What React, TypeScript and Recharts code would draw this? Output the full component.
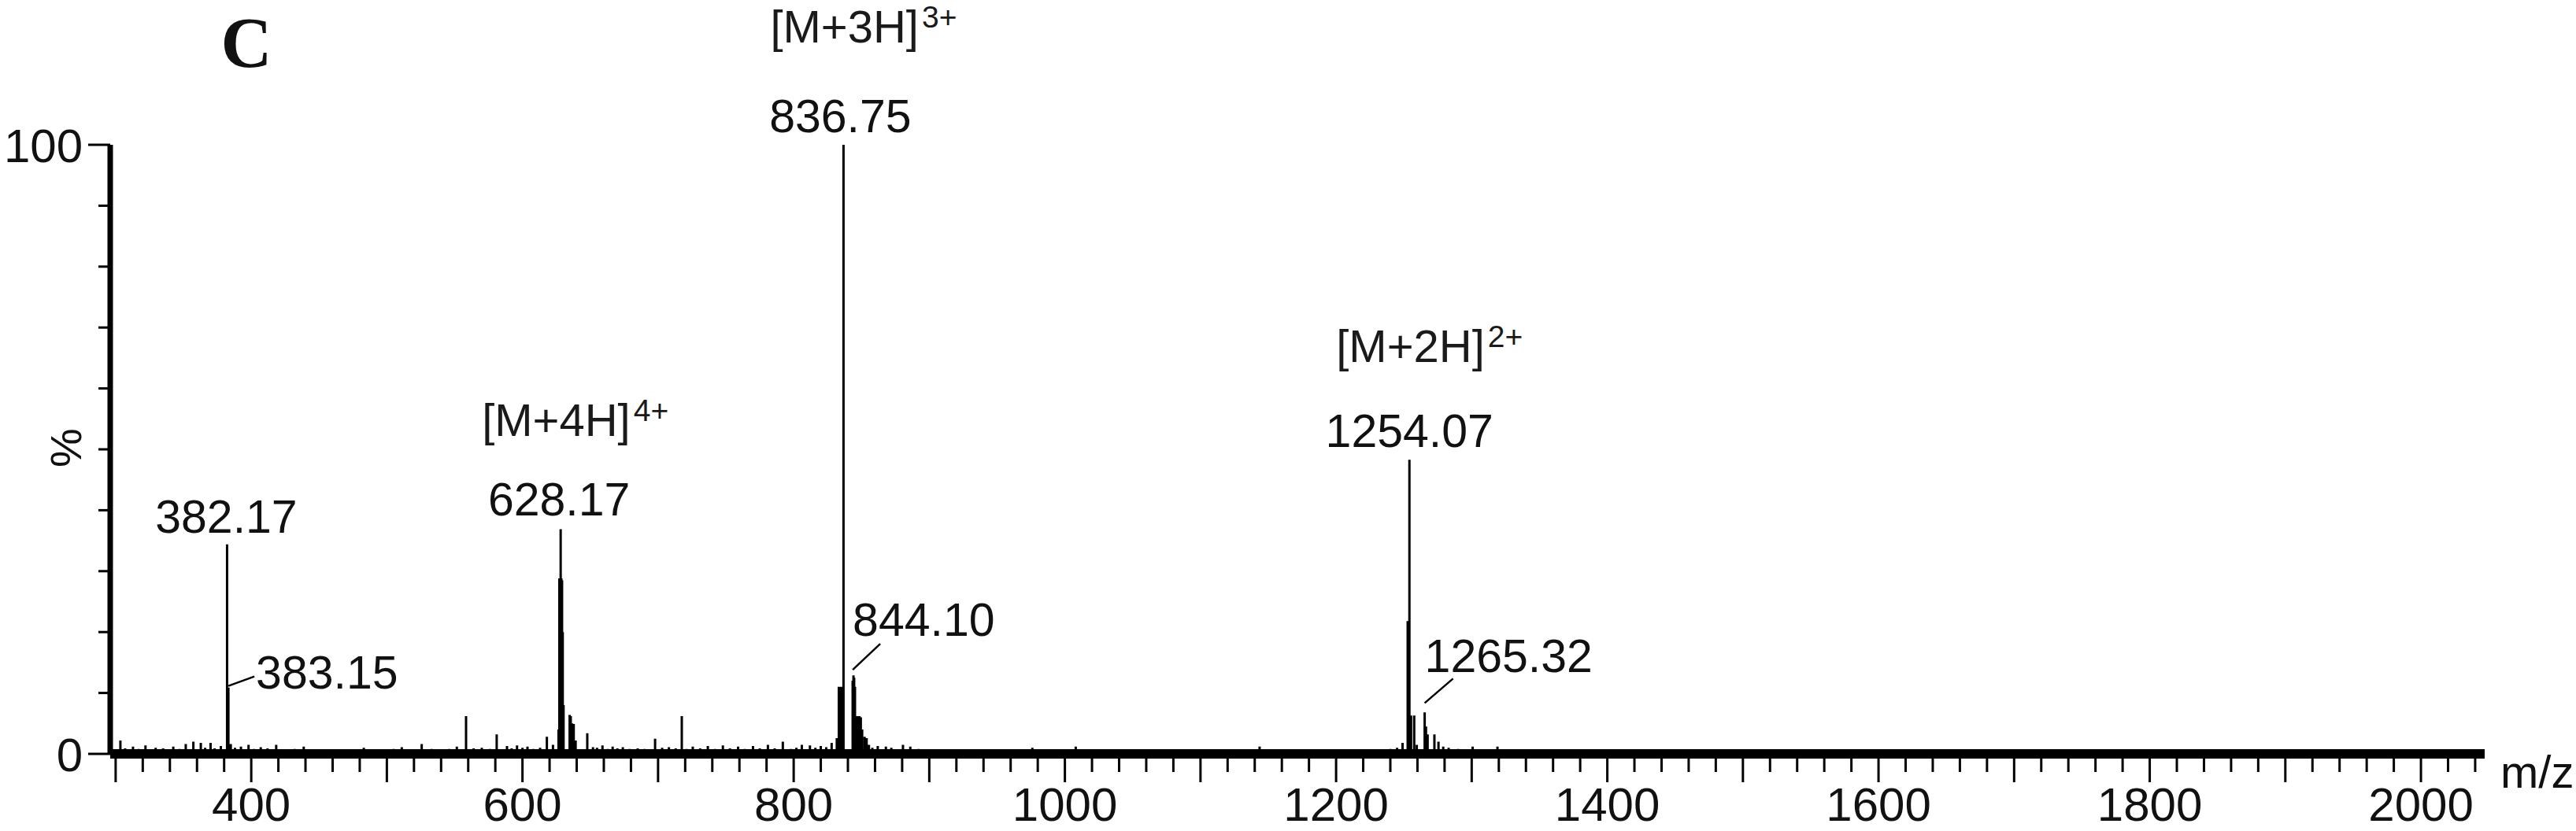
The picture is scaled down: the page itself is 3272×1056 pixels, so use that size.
import React from "react";
import { ComposedChart, Line, Scatter, XAxis, YAxis } from "recharts";

// ---------- data ----------
// labelled peaks (m/z, relative intensity %)
const labeledMz = [382.17, 383.15, 628.17, 836.75, 844.1, 1254.07, 1265.32];
const labeledPct = [34.4, 10.9, 36.9, 100, 12.9, 48.3, 6.8];
const labeledText = ["382.17", "383.15", "628.17", "836.75", "844.10", "1254.07", "1265.32"];

// ion assignments
const ionMz = [628.17, 836.75, 1254.07];
const ionPct = [36.9, 100, 48.3];
const ionBase = ["[M+4H]", "[M+3H]", "[M+2H]"];
const ionCharge = ["4+", "3+", "2+"];

// isotope cluster sticks around the main ions
const clusterMz = [
  626.6, 627.2, 627.7, 628.7, 629.2, 629.7, 630.3, 634.8, 635.6, 636.6, 637.8, 639.2,
  831.8, 833.3, 834.1, 834.9, 835.7, 836.3, 843.5, 844.6, 845.2, 846.8, 847.6, 848.5, 849.5, 850.5, 852.3, 853.8, 855.5,
  1252.8, 1253.3, 1253.7, 1255.3, 1257.6, 1259.5, 1266.3, 1267.5, 1272.5, 1275.5, 1279,
];
const clusterPct = [
  4, 28.8, 28.8, 28.8, 28.5, 20, 8, 6.4, 6.2, 5.0, 4.9, 2.2,
  2.6, 11, 11, 11, 11, 11, 12, 12.5, 11, 6.2, 6.2, 6.2, 6.0, 4.0, 2.8, 2.6, 1.5,
  21.8, 21.8, 21.8, 6.3, 6.3, 1.5, 4.5, 3.2, 3.2, 2.0, 1.2,
];

// baseline noise peaks
const noiseMz = [
  303.5, 307, 312.8, 317, 322, 329.5, 335, 342.5, 347, 351.7, 357.3, 362.8, 366, 370, 373, 377.6, 384.9, 388,
  392.4, 398, 402, 407, 412, 418.4, 425, 432, 438.7, 446, 455, 462, 470, 476, 483, 490, 498, 505, 511, 517,
  525.7, 533, 540, 546, 551.6, 558.4, 564, 570, 576, 581, 588.6, 592, 596, 600, 603.7, 608, 613, 618, 622.5,
  647.8, 652, 655, 659, 663, 666.5, 670, 674, 679, 685, 690, 697.8, 703, 708, 713, 717.5, 721, 725.6, 731,
  736.7, 742, 747.8, 753, 759, 764, 770, 775, 781, 786, 792, 798, 802, 806, 812, 816, 820, 824, 828,
  858, 862, 868, 872, 880.6, 886, 892, 900, 940, 976, 1008, 1016, 1060, 1100, 1143.6, 1180, 1200, 1240,
  1245, 1249, 1283, 1290, 1300.7, 1319, 1330,
];
const noisePct = [
  2.2, 0.9, 1.2, 0.8, 1.4, 1.0, 0.9, 1.2, 0.8, 1.6, 2.0, 1.8, 1.0, 1.8, 0.9, 1.3, 1.6, 1.0,
  1.2, 1.5, 0.8, 1.1, 0.9, 1.5, 0.7, 0.8, 1.2, 0.7, 0.6, 0.7, 0.6, 0.7, 1.0, 0.6, 0.7, 0.8, 1.1, 0.7,
  1.6, 0.8, 0.7, 0.8, 1.2, 6.2, 0.9, 1.0, 0.8, 3.2, 1.3, 0.9, 1.4, 1.0, 1.2, 0.8, 1.0, 2.8, 1.5,
  3.4, 1.1, 1.0, 1.4, 0.8, 1.2, 0.9, 1.1, 0.8, 0.9, 0.8, 2.5, 1.0, 1.1, 0.9, 6.2, 0.8, 1.2, 0.9,
  1.3, 0.8, 1.4, 0.9, 1.2, 0.8, 1.3, 0.9, 1.5, 0.9, 2.0, 0.8, 1.0, 1.5, 1.4, 1.0, 1.3, 1.1, 1.8,
  1.0, 1.3, 1.2, 1.0, 1.5, 1.2, 0.8, 0.7, 0.6, 1.0, 1.2, 0.7, 0.6, 0.6, 1.2, 0.6, 0.6, 0.8,
  1.0, 1.8, 1.0, 0.8, 1.2, 1.2, 0.6,
];

// axis ticks
const yTicks = [0, 10, 20, 30, 40, 50, 60, 70, 80, 90, 100];
const yLabelled = [0, 100];
const xLabelled = [400, 600, 800, 1000, 1200, 1400, 1600, 1800, 2000];
const xTicks = Array.from({ length: 88 }, (_, i) => 300 + i * 20);

// ---------- styles ----------
const SANS = "'Liberation Sans', Arial, Helvetica, sans-serif";
const SERIF = "'Liberation Serif', 'Times New Roman', serif";

const numberLabelStyle: Record<string, { dx: number; dy: number; anchor: string; leader?: number[] }> = {
  "382.17": { dx: -1, dy: -15, anchor: "middle" },
  "383.15": { dx: 35, dy: 1, anchor: "start", leader: [0, -2, 33, -14] },
  "628.17": { dx: -2, dy: -17, anchor: "middle" },
  "836.75": { dx: -4, dy: -16, anchor: "middle" },
  "844.10": { dx: -1, dy: -50, anchor: "start", leader: [-1, -7, 34, -40] },
  "1254.07": { dx: 0, dy: -16, anchor: "middle" },
  "1265.32": { dx: 0, dy: -51, anchor: "start", leader: [0, -12, 36, -43] },
};
const ionLabelStyle: Record<string, { dx: number; dy: number }> = {
  "[M+4H]": { dx: -100, dy: -118 },
  "[M+3H]": { dx: -93, dy: -130 },
  "[M+2H]": { dx: -93, dy: -124 },
};

// ---------- derived series ----------
type Pk = { mz: number; pct: number };
const peakList: Pk[] = [
  ...labeledMz.map((mz, i) => ({ mz, pct: labeledPct[i] })),
  ...clusterMz.map((mz, i) => ({ mz, pct: clusterPct[i] })),
  ...noiseMz.map((mz, i) => ({ mz, pct: noisePct[i] })),
].sort((a, b) => a.mz - b.mz);

const stickData = peakList.flatMap((p) => [
  { mz: p.mz, pct: 0 },
  { mz: p.mz, pct: p.pct },
  { mz: p.mz, pct: 0 },
]);

const labelData = labeledMz.map((mz, i) => ({ mz, pct: labeledPct[i], text: labeledText[i] }));
const ionData = ionMz.map((mz, i) => ({ mz, pct: ionPct[i], base: ionBase[i], charge: ionCharge[i] }));

// ---------- custom renderers ----------
const YTick = (props: any) => {
  const { x, y, payload } = props;
  const major = yLabelled.includes(payload.value);
  const len = major ? 28 : 15;
  return (
    <g>
      <line x1={x - len} x2={x} y1={y} y2={y} stroke="#000" strokeWidth={3} />
      {major && (
        <text x={x - len - 7} y={y + 22} textAnchor="end" fontSize={60} fontFamily={SANS} fill="#111">
          {payload.value}
        </text>
      )}
    </g>
  );
};

const XTick = (props: any) => {
  const { x, y, payload } = props;
  const v = payload.value;
  const major = v % 100 === 0;
  const len = major ? 36 : 23;
  return (
    <g>
      <line x1={x} x2={x} y1={y} y2={y + len} stroke="#000" strokeWidth={3} />
      {xLabelled.includes(v) && (
        <text x={x} y={y + 85} textAnchor="middle" fontSize={60} fontFamily={SANS} fill="#111">
          {v}
        </text>
      )}
    </g>
  );
};

const NumberLabel = (props: any) => {
  const { cx, cy, payload } = props;
  const s = numberLabelStyle[payload.text];
  return (
    <g>
      {s.leader && (
        <line
          x1={cx + s.leader[0]}
          y1={cy + s.leader[1]}
          x2={cx + s.leader[2]}
          y2={cy + s.leader[3]}
          stroke="#000"
          strokeWidth={2.5}
        />
      )}
      <text x={cx + s.dx} y={cy + s.dy} textAnchor={s.anchor} fontSize={59} fontFamily={SANS} fill="#111">
        {payload.text}
      </text>
    </g>
  );
};

const IonLabel = (props: any) => {
  const { cx, cy, payload } = props;
  const s = ionLabelStyle[payload.base];
  return (
    <text x={cx + s.dx} y={cy + s.dy} textAnchor="start" fontSize={58} fontFamily={SANS} fill="#1a1a1a">
      <tspan>{payload.base}</tspan>
      <tspan dx={4} dy={-19} fontSize={39}>
        {payload.charge}
      </tspan>
    </text>
  );
};

export default function App() {
  return (
    <div style={{ position: "absolute", left: 0, top: 0, width: 3272, height: 1056, background: "#fff" }}>
      <ComposedChart width={3272} height={1056} margin={{ top: 184, right: 116, bottom: 0, left: 0 }}>
        <XAxis
          dataKey="mz"
          type="number"
          domain={[296, 2047]}
          ticks={xTicks}
          interval={0}
          height={98}
          axisLine={{ stroke: "#000", strokeWidth: 12 }}
          tickLine={false}
          tickSize={0}
          tickMargin={0}
          tick={<XTick />}
        />
        <YAxis
          type="number"
          domain={[0, 100]}
          ticks={yTicks}
          interval={0}
          width={140}
          axisLine={{ stroke: "#000", strokeWidth: 7 }}
          tickLine={false}
          tickSize={0}
          tickMargin={0}
          tick={<YTick />}
        />
        <Line
          data={stickData}
          dataKey="pct"
          type="linear"
          stroke="#000"
          strokeWidth={3}
          strokeLinejoin="bevel"
          dot={false}
          activeDot={false}
          isAnimationActive={false}
        />
        <Scatter data={labelData} dataKey="pct" shape={<NumberLabel />} isAnimationActive={false} />
        <Scatter data={ionData} dataKey="pct" shape={<IonLabel />} isAnimationActive={false} />
      </ComposedChart>
      <svg
        width={3272}
        height={1056}
        style={{ position: "absolute", left: 0, top: 0, pointerEvents: "none" }}
      >
        <text x={313} y={85} textAnchor="middle" fontSize={90} fontWeight="bold" fontFamily={SERIF} fill="#111">
          C
        </text>
        <text
          x={83}
          y={569}
          textAnchor="middle"
          dominantBaseline="central"
          fontSize={56}
          fontFamily={SANS}
          fill="#111"
          transform="rotate(-90 83 569)"
        >
          %
        </text>
        <text x={3176} y={1001} textAnchor="start" fontSize={58} fontFamily={SANS} fill="#111">
          m/z
        </text>
      </svg>
    </div>
  );
}
